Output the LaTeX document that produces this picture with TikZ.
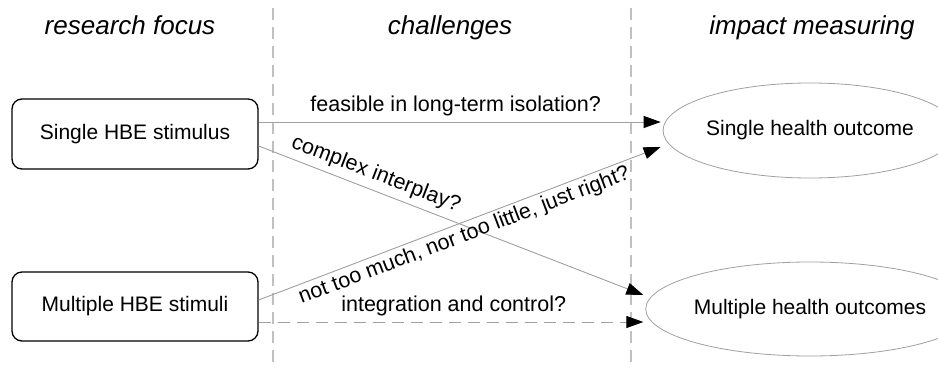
\documentclass[tikz,border=0pt]{standalone}
\usepackage{fontspec}
\setmainfont{Liberation Sans}
\usetikzlibrary{arrows.meta,shapes.geometric}
\definecolor{linegray}{HTML}{A0A0A0}
\definecolor{dashgray}{HTML}{C0C0C0}
\begin{document}
\begin{tikzpicture}[x=1pt,y=-1pt,
  txt/.style={font=\fontsize{21}{25}\selectfont},
  labtxt/.style={font=\fontsize{21.5}{25}\selectfont},
  head/.style={font=\fontsize{26}{30}\selectfont\itshape, anchor=base, inner sep=0pt},
  stimbox/.style={draw=black, line width=1.3pt, rounded corners=10pt, minimum width=246pt, minimum height=70pt, inner sep=0pt, txt},
  outcome/.style={ellipse, draw=linegray, line width=0.8pt, minimum width=280pt, minimum height=95pt, inner sep=0pt, txt},
  conn/.style={draw=linegray, line width=0.9pt, -{Triangle[length=17pt,width=12pt,color=black]}},
  sepline/.style={draw=dashgray, line width=1.1pt, dash pattern=on 12pt off 7pt},
  lab/.style={labtxt, text=black, sloped, inner sep=5.5pt}]
\useasboundingbox (0,0) rectangle (938,369);
\clip (0,0) rectangle (938,369);
\fill[white] (0,0) rectangle (938,369);

% column separators
\coordinate (s1t) at (273,8);
\coordinate (s1b) at (273,369);
\coordinate (s2t) at (631,8);
\coordinate (s2b) at (631,369);
\draw[sepline] (s1t) -- (s1b);
\draw[sepline] (s2t) -- (s2b);

% headers
\node[head] (h1) at (130,35) {research focus};
\node[head] (h2) at (450,35) {challenges};
\node[head] (h3) at (812,35) {impact measuring};

% nodes
\node[stimbox] (b1) at (135,134) {Single HBE stimulus};
\node[stimbox, minimum height=69pt] (b2) at (135,306.5) {Multiple HBE stimuli};
\node[outcome] (e1) at (810,130.5) {Single health outcome};
\node[outcome, minimum height=94pt] (e2) at (810,309) {Multiple health outcomes};

% connectors
\draw[conn] ([yshift=12pt]b1.east) -- node[lab, above, pos=0.49] (l1) {feasible in long-term isolation?} ([xshift=-2pt,yshift=8.5pt]e1.west);
\draw[conn] ([yshift=-12pt]b1.east) -- node[lab, above, pos=0.29] (l2) {complex interplay?} ([xshift=-2pt,yshift=14pt]e2.west);
\draw[conn] ([yshift=6.5pt]b2.east) -- node[lab, below, inner sep=3pt, pos=0.5] (l3) {not too much, nor too little, just right?} ([xshift=-2pt,yshift=-16.5pt]e1.west);
\draw[conn, dash pattern=on 12pt off 7pt] ([yshift=-15.5pt]b2.east) -- node[lab, above, pos=0.507] (l4) {integration and control?} ([xshift=-2pt,yshift=-13pt]e2.west);
\end{tikzpicture}
\end{document}
